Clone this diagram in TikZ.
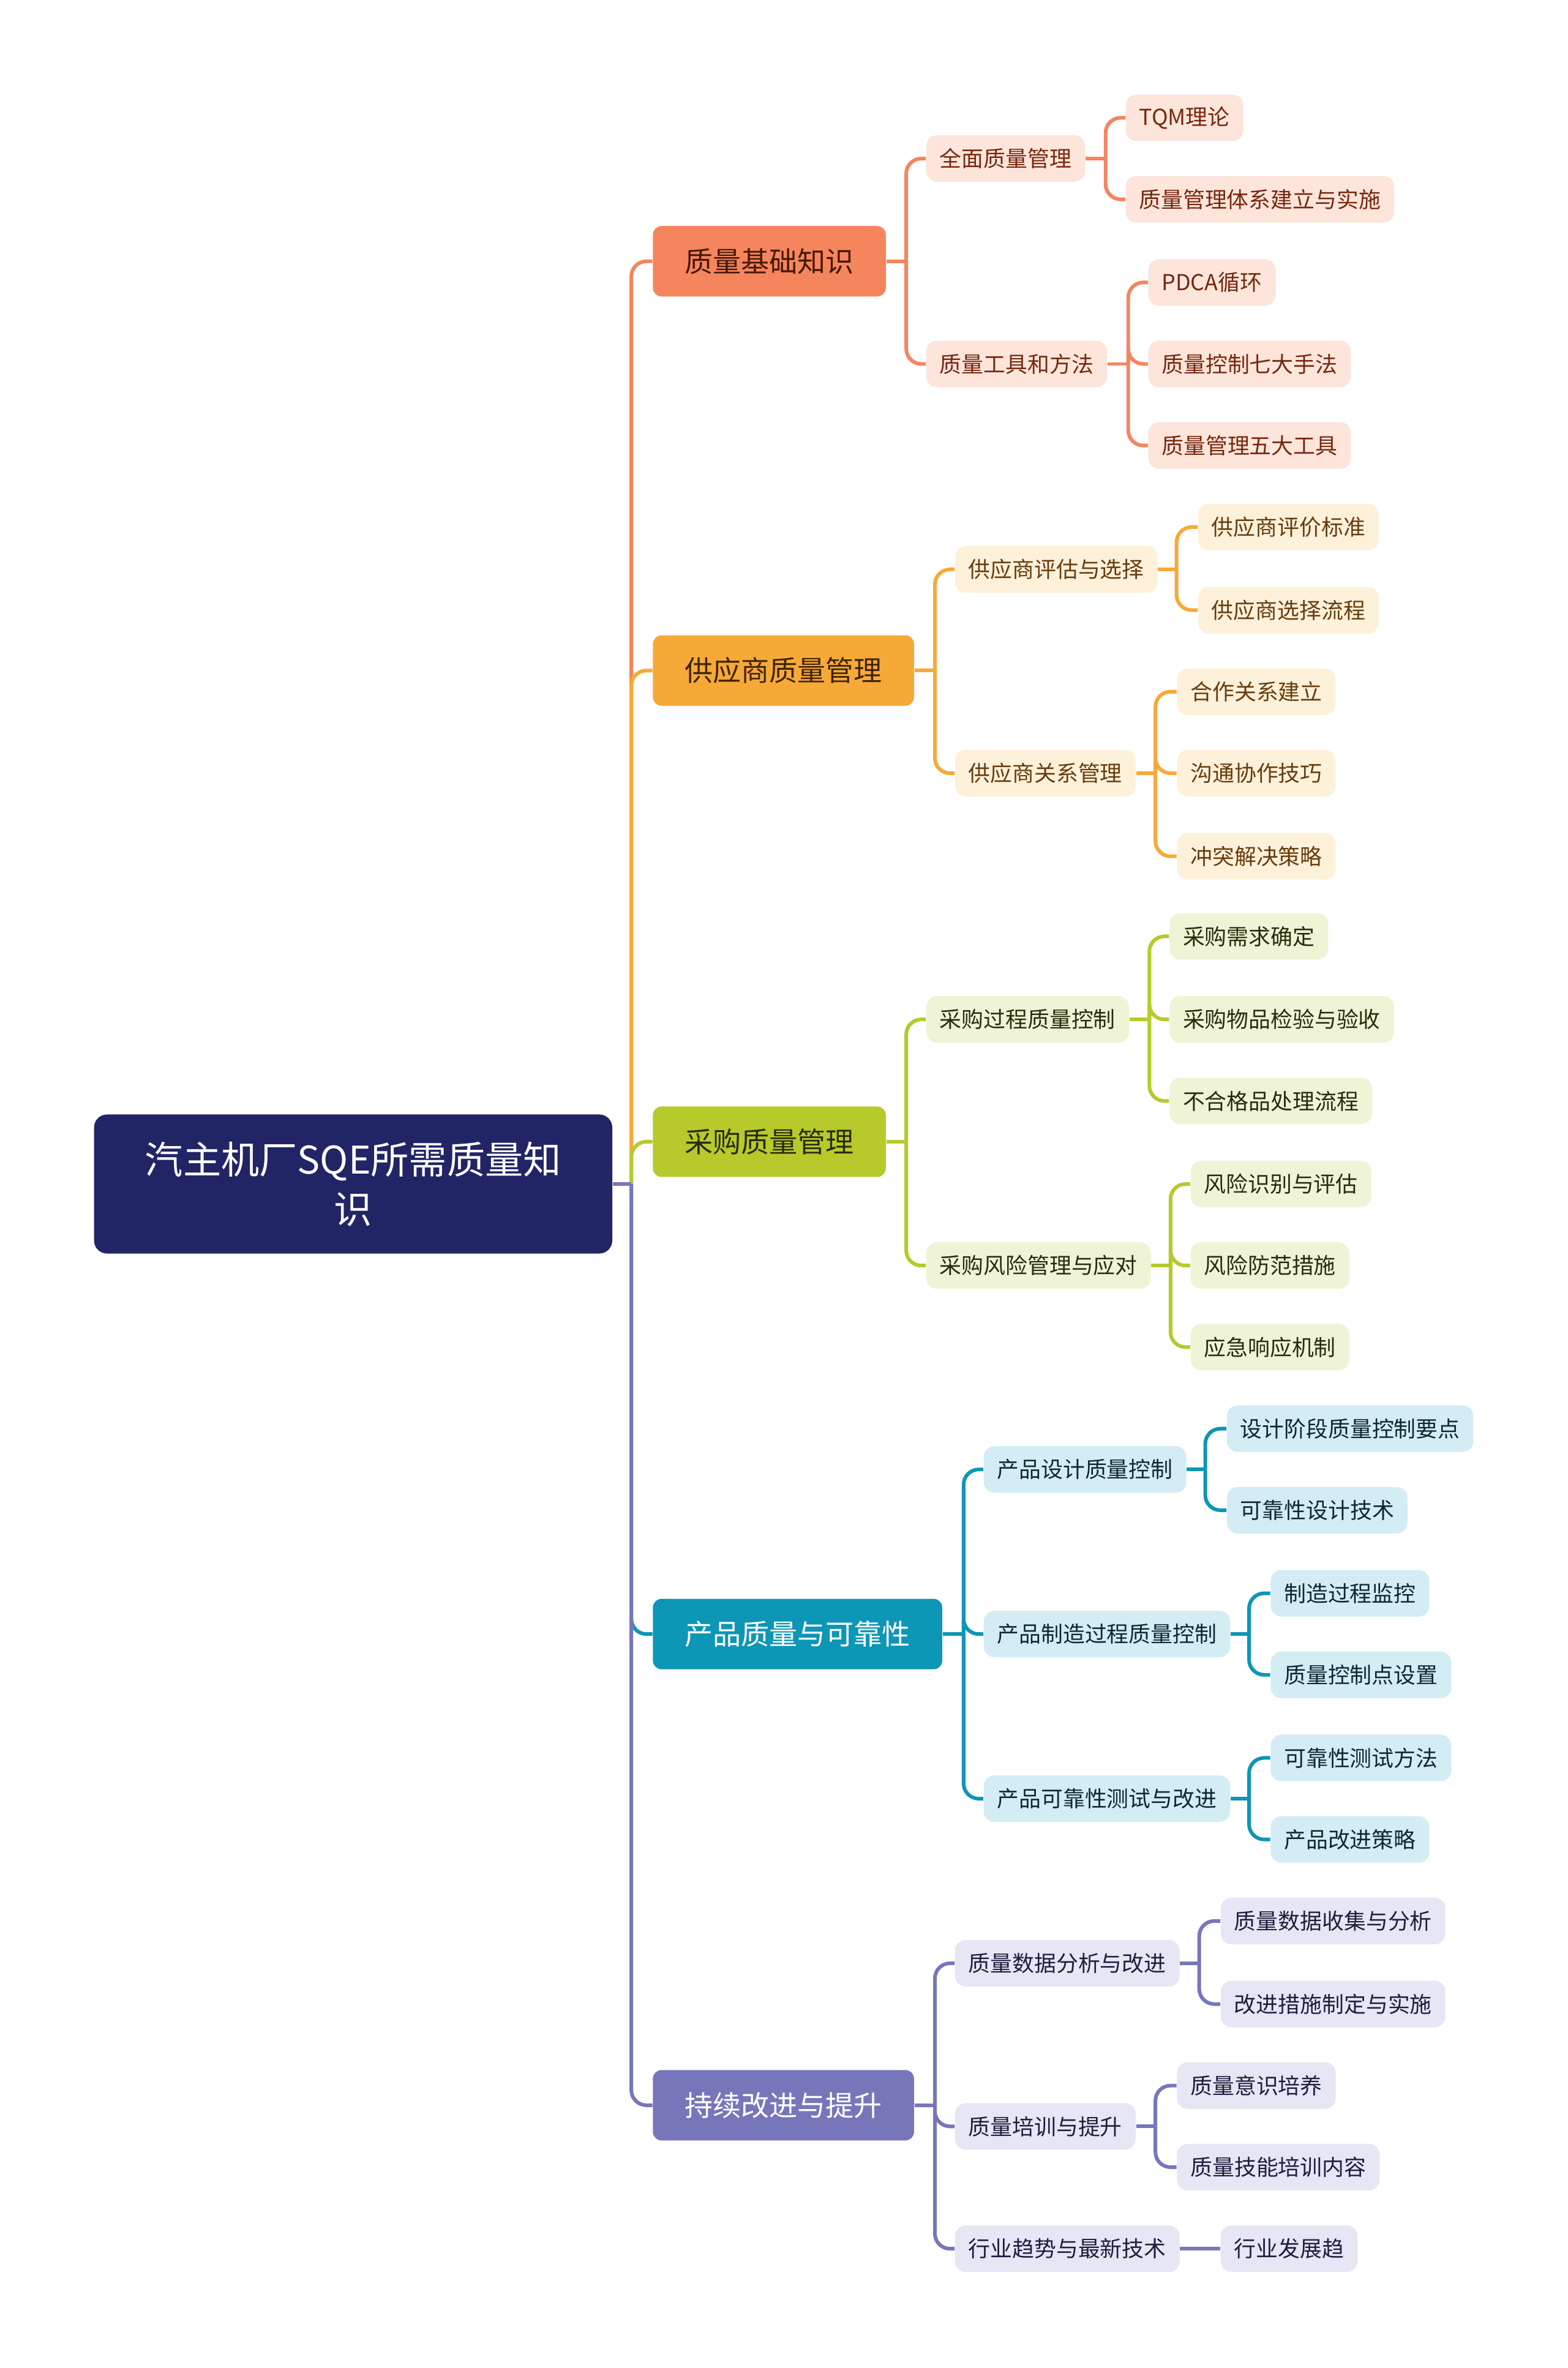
\documentclass[tikz,border=0pt]{standalone}
\usepackage{fontspec}
\setmainfont{Noto Sans CJK SC}
\usepackage{tikz}
\usetikzlibrary{calc,positioning}
\definecolor{SQEnavy}{RGB}{33,37,101}
\definecolor{SQEcoral}{RGB}{245,133,93}
\definecolor{SQEorange}{RGB}{247,169,56}
\definecolor{SQEgreen}{RGB}{182,202,43}
\definecolor{SQEteal}{RGB}{13,150,181}
\definecolor{SQEpurple}{RGB}{120,118,186}
\definecolor{coralbg}{RGB}{253,229,219}
\definecolor{orangebg}{RGB}{254,241,218}
\definecolor{greenbg}{RGB}{240,244,214}
\definecolor{tealbg}{RGB}{212,237,244}
\definecolor{purplebg}{RGB}{230,230,244}
\definecolor{coraltxt}{RGB}{118,40,14}
\definecolor{orangetxt}{RGB}{104,60,12}
\definecolor{greentxt}{RGB}{40,44,10}
\definecolor{tealtxt}{RGB}{14,40,48}
\definecolor{purpletxt}{RGB}{30,30,62}

\begin{document}
\begin{tikzpicture}[x=0.024663cm,y=-0.024663cm,
    rootbox/.style={rectangle,rounded corners=6pt,anchor=west,fill=SQEnavy,text=white,
                    minimum width=8.46cm,minimum height=2.27cm,align=center,
                    font=\fontsize{17.7}{23}\selectfont},
    topic/.style={rectangle,rounded corners=4pt,anchor=west,minimum height=1.15cm,
                  inner xsep=0.52cm,font=\fontsize{13.1}{16}\selectfont},
    sub/.style={rectangle,rounded corners=5pt,anchor=west,minimum height=0.76cm,
                inner xsep=0.22cm,font=\fontsize{10.2}{12}\selectfont},
    link/.style={line width=1.7pt,rounded corners=7pt},
    t1/.style={topic,fill=SQEcoral,text=coraltxt!60!black},
    t2/.style={topic,fill=SQEorange,text=orangetxt!60!black},
    t3/.style={topic,fill=SQEgreen,text=greentxt},
    t4/.style={topic,fill=SQEteal,text=white},
    t5/.style={topic,fill=SQEpurple,text=white},
    s1/.style={sub,fill=coralbg,text=coraltxt},
    s2/.style={sub,fill=orangebg,text=orangetxt},
    s3/.style={sub,fill=greenbg,text=greentxt},
    s4/.style={sub,fill=tealbg,text=tealtxt},
    s5/.style={sub,fill=purplebg,text=purpletxt},
    l1/.style={link,draw=SQEcoral},
    l2/.style={link,draw=SQEorange},
    l3/.style={link,draw=SQEgreen},
    l4/.style={link,draw=SQEteal},
    l5/.style={link,draw=SQEpurple}]
  \useasboundingbox[fill=white] (0,0) rectangle (1038,1568);

  % root and main topics
  \node[rootbox] (root) at (62,784) {汽主机厂SQE所需质量知\\识};
  \node[t1] (t1) at (432,173) {质量基础知识};
  \node[t2] (t2) at (432,444) {供应商质量管理};
  \node[t3] (t3) at (432,756) {采购质量管理};
  \node[t4] (t4) at (432,1082) {产品质量与可靠性};
  \node[t5] (t5) at (432,1394) {持续改进与提升};

  % branch 1
  \node[s1] (s11) at (613,105) {全面质量管理};
  \node[s1] (s12) at (613,241) {质量工具和方法};
  \node[s1] (s111) at (745,78) {TQM理论};
  \node[s1] (s112) at (745,132) {质量管理体系建立与实施};
  \node[s1] (s121) at (760,187) {PDCA循环};
  \node[s1] (s122) at (760,241) {质量控制七大手法};
  \node[s1] (s123) at (760,295) {质量管理五大工具};

  % branch 2
  \node[s2] (s21) at (632,377) {供应商评估与选择};
  \node[s2] (s22) at (632,512) {供应商关系管理};
  \node[s2] (s211) at (793,349) {供应商评价标准};
  \node[s2] (s212) at (793,404) {供应商选择流程};
  \node[s2] (s221) at (779,458) {合作关系建立};
  \node[s2] (s222) at (779,512) {沟通协作技巧};
  \node[s2] (s223) at (779,567) {冲突解决策略};

  % branch 3
  \node[s3] (s31) at (613,675) {采购过程质量控制};
  \node[s3] (s32) at (613,838) {采购风险管理与应对};
  \node[s3] (s311) at (774,620) {采购需求确定};
  \node[s3] (s312) at (774,675) {采购物品检验与验收};
  \node[s3] (s313) at (774,729) {不合格品处理流程};
  \node[s3] (s321) at (788,784) {风险识别与评估};
  \node[s3] (s322) at (788,838) {风险防范措施};
  \node[s3] (s323) at (788,892) {应急响应机制};

  % branch 4
  \node[s4] (s41) at (651,973) {产品设计质量控制};
  \node[s4] (s42) at (651,1082) {产品制造过程质量控制};
  \node[s4] (s43) at (651,1191) {产品可靠性测试与改进};
  \node[s4] (s411) at (812,946) {设计阶段质量控制要点};
  \node[s4] (s412) at (812,1000) {可靠性设计技术};
  \node[s4] (s421) at (841,1055) {制造过程监控};
  \node[s4] (s422) at (841,1109) {质量控制点设置};
  \node[s4] (s431) at (841,1164) {可靠性测试方法};
  \node[s4] (s432) at (841,1218) {产品改进策略};

  % branch 5
  \node[s5] (s51) at (632,1300) {质量数据分析与改进};
  \node[s5] (s52) at (632,1408) {质量培训与提升};
  \node[s5] (s53) at (632,1489) {行业趋势与最新技术};
  \node[s5] (s511) at (808,1272) {质量数据收集与分析};
  \node[s5] (s512) at (808,1327) {改进措施制定与实施};
  \node[s5] (s521) at (779,1381) {质量意识培养};
  \node[s5] (s522) at (779,1435) {质量技能培训内容};
  \node[s5] (s531) at (808,1489) {行业发展趋};

  % junctions
  \coordinate (j0) at (418,784);
  \coordinate (j1) at (600,173);
  \coordinate (j11) at (732,105);
  \coordinate (j12) at (747,241);
  \coordinate (j2) at (619,444);
  \coordinate (j21) at (779,377);
  \coordinate (j22) at (765,512);
  \coordinate (j3) at (600,756);
  \coordinate (j31) at (761,675);
  \coordinate (j32) at (775,838);
  \coordinate (j4) at (638,1082);
  \coordinate (j41) at (798,973);
  \coordinate (j42) at (827,1082);
  \coordinate (j43) at (827,1191);
  \coordinate (j5) at (619,1394);
  \coordinate (j51) at (794,1300);
  \coordinate (j52) at (765,1408);

  % trunk
  \draw[l1] (j0) |- (t1.west);
  \draw[l2] (j0) |- (t2.west);
  \draw[l3] (j0) |- (t3.west);
  \draw[l4] (j0) |- (t4.west);
  \draw[l5] (j0) |- (t5.west);
  \draw[l5] (root) -- (j0);

  % branch links
  \draw[l1] (t1) -- (j1);
  \foreach \c in {s11,s12} \draw[l1] (j1) |- (\c.west);
  \draw[l1] (s11) -- (j11);
  \foreach \c in {s111,s112} \draw[l1] (j11) |- (\c.west);
  \draw[l1] (s12) -- (j12);
  \foreach \c in {s121,s122,s123} \draw[l1] (j12) |- (\c.west);

  \draw[l2] (t2) -- (j2);
  \foreach \c in {s21,s22} \draw[l2] (j2) |- (\c.west);
  \draw[l2] (s21) -- (j21);
  \foreach \c in {s211,s212} \draw[l2] (j21) |- (\c.west);
  \draw[l2] (s22) -- (j22);
  \foreach \c in {s221,s222,s223} \draw[l2] (j22) |- (\c.west);

  \draw[l3] (t3) -- (j3);
  \foreach \c in {s31,s32} \draw[l3] (j3) |- (\c.west);
  \draw[l3] (s31) -- (j31);
  \foreach \c in {s311,s312,s313} \draw[l3] (j31) |- (\c.west);
  \draw[l3] (s32) -- (j32);
  \foreach \c in {s321,s322,s323} \draw[l3] (j32) |- (\c.west);

  \draw[l4] (t4) -- (j4);
  \foreach \c in {s41,s42,s43} \draw[l4] (j4) |- (\c.west);
  \draw[l4] (s41) -- (j41);
  \foreach \c in {s411,s412} \draw[l4] (j41) |- (\c.west);
  \draw[l4] (s42) -- (j42);
  \foreach \c in {s421,s422} \draw[l4] (j42) |- (\c.west);
  \draw[l4] (s43) -- (j43);
  \foreach \c in {s431,s432} \draw[l4] (j43) |- (\c.west);

  \draw[l5] (t5) -- (j5);
  \foreach \c in {s51,s52,s53} \draw[l5] (j5) |- (\c.west);
  \draw[l5] (s51) -- (j51);
  \foreach \c in {s511,s512} \draw[l5] (j51) |- (\c.west);
  \draw[l5] (s52) -- (j52);
  \foreach \c in {s521,s522} \draw[l5] (j52) |- (\c.west);
  \draw[l5] (s53) -- (s531);
\end{tikzpicture}
\end{document}
